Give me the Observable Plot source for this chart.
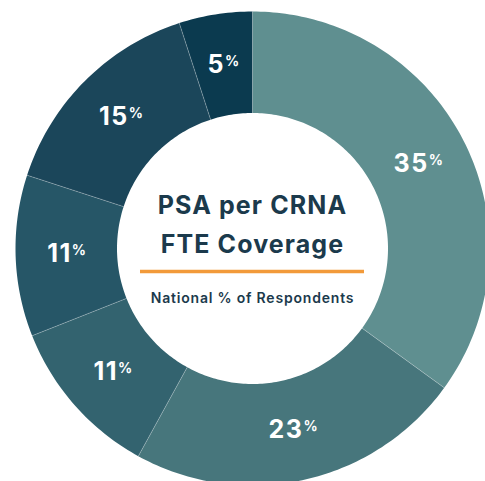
<!DOCTYPE html>
<html><head><meta charset="utf-8">
<script src="https://cdn.jsdelivr.net/npm/d3@7"></script>
<script src="https://cdn.jsdelivr.net/npm/@observablehq/plot@0.6"></script>
<style>html,body{margin:0;padding:0;background:#fff} svg{display:block}</style>
</head><body><div id="chart"></div>
<script>
// ---- data ----
const segments = ["Segment 1","Segment 2","Segment 3","Segment 4","Segment 5","Segment 6"];
const values = [35, 23, 11, 11, 15, 5];
const colors = ["#5f8f90","#47767c","#33636f","#265667","#1b465a","#0b3a4f"];
const titleLines = ["PSA per CRNA","FTE Coverage"];
const subtitle = "National % of Respondents";

// ---- layout constants ----
const W = 485, H = 481, CX = 252, CY = 248, R = 237;
const rOuter = 1, rInner = 135.5 / R, rLabel = 0.785;
const FONT = "Inter, 'Noto Sans', sans-serif";

const pie = d3.pie().sort(null).value(d => d.value)(values.map((v, i) => ({name: segments[i], value: v, color: colors[i]})));

// polygon vertices of each slice, derived from pie angles
const pts = [];
for (const p of pie) {
  const n = Math.max(4, Math.ceil((p.endAngle - p.startAngle) / (Math.PI / 180)));
  for (let k = 0; k <= n; k++) {
    const a = p.startAngle + (p.endAngle - p.startAngle) * k / n;
    pts.push({name: p.data.name, color: p.data.color, x: rOuter * Math.sin(a), y: rOuter * Math.cos(a)});
  }
  for (let k = n; k >= 0; k--) {
    const a = p.startAngle + (p.endAngle - p.startAngle) * k / n;
    pts.push({name: p.data.name, color: p.data.color, x: rInner * Math.sin(a), y: rInner * Math.cos(a)});
  }
}
const seps = pie.map(p => ({a: p.startAngle}));
const labels = pie.map(p => {
  const a = (p.startAngle + p.endAngle) / 2;
  return {x: rLabel * Math.sin(a), y: rLabel * Math.cos(a), v: p.data.value};
});

const svg = Plot.plot({
  width: W, height: H,
  margin: 0,
  x: {domain: [-CX / R, (W - CX) / R], axis: null},
  y: {domain: [-(H - CY) / R, CY / R], axis: null},
  marks: [
    Plot.line(pts, {x: "x", y: "y", z: "name", fill: "color", stroke: "none", curve: "linear-closed"}),
    Plot.link(seps, {x1: d => rInner * Math.sin(d.a), y1: d => rInner * Math.cos(d.a), x2: d => rOuter * Math.sin(d.a), y2: d => rOuter * Math.cos(d.a), stroke: "#ffffff", strokeOpacity: 0.35, strokeWidth: 0.8}),
    Plot.text(labels, {x: "x", y: "y", text: d => String(d.v), fill: "#ffffff", fontSize: 25, fontWeight: 700, fontFamily: FONT, textAnchor: "middle", lineAnchor: "middle"}),
    Plot.text([titleLines[0]], {x: () => 0, y: () => 0, dy: -35, fill: "#1b3a4c", fontSize: 25, fontWeight: 700, fontFamily: FONT, textAnchor: "middle", lineAnchor: "bottom"}),
    Plot.text([titleLines[1]], {x: () => 0, y: () => 0, dy: 4, fill: "#1b3a4c", fontSize: 25, fontWeight: 700, fontFamily: FONT, textAnchor: "middle", lineAnchor: "bottom"}),
    Plot.ruleY([0], {x1: -112 / R, x2: 112 / R, dy: 23, stroke: "#f29a3a", strokeWidth: 3.5}),
    Plot.text([subtitle], {x: () => 0, y: () => 0, dy: 54, fill: "#1b3a4c", fontSize: 14, fontWeight: 600, fontFamily: FONT, textAnchor: "middle", lineAnchor: "bottom"})
  ]
});

// letter spacing and superscript % signs
const labelSet = new Set(values.map(String));
d3.select(svg).selectAll("text").each(function() {
  const txt = this.textContent;
  if (labelSet.has(txt)) {
    d3.select(this).attr("letter-spacing", 1.5)
      .append("tspan").attr("font-size", 14).attr("dy", "-0.5em").attr("letter-spacing", 0).text("%");
  } else if (titleLines.includes(txt)) {
    d3.select(this).attr("letter-spacing", 1.1);
  } else if (txt === subtitle) {
    d3.select(this).attr("letter-spacing", 0.8);
  }
});
document.getElementById("chart").appendChild(svg);
</script>
</body></html>
